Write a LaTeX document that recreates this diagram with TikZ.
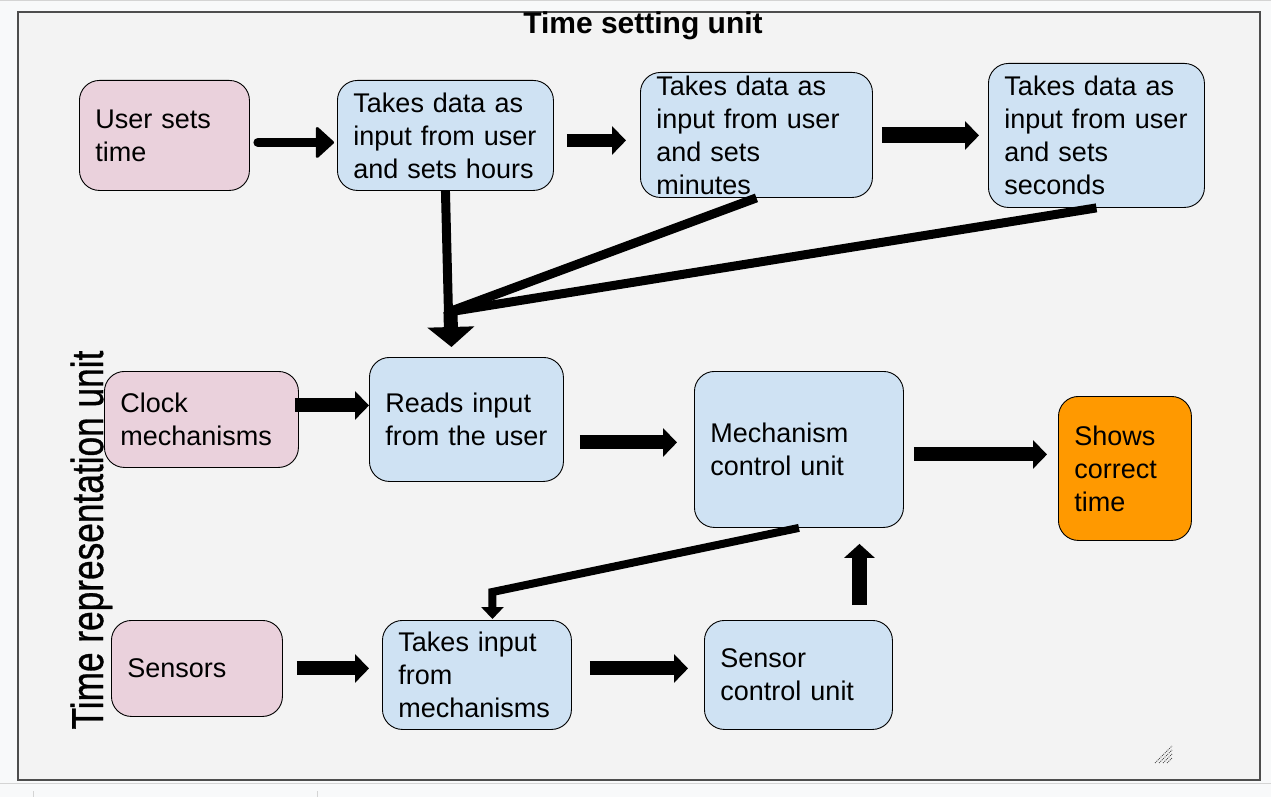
\documentclass[tikz,border=0pt]{standalone}
\usepackage{fontspec}
\setmainfont{Liberation Sans}
\newfontfamily\vfont[FakeBold=0.8]{Liberation Sans}
\usetikzlibrary{arrows.meta,calc}
\definecolor{pinkbox}{HTML}{EAD1DC}
\definecolor{bluebox}{HTML}{CFE2F3}
\definecolor{orangebox}{HTML}{FF9900}
\definecolor{panel}{HTML}{F3F3F3}
\definecolor{outerbg}{HTML}{F8F9FA}
\definecolor{framec}{HTML}{4D4D4D}
\definecolor{uigray}{HTML}{D4D4D4}
\tikzset{
  boxbase/.style={draw=black, line width=0.9pt, rounded corners=20pt, anchor=north west,
    inner xsep=16pt, inner ysep=0pt, align=left, text=black,
    font=\fontsize{27}{33}\selectfont},
  pinkb/.style={boxbase, fill=pinkbox},
  blueb/.style={boxbase, fill=bluebox},
  orangeb/.style={boxbase, fill=orangebox},
  sz/.style 2 args={minimum width=#1pt, minimum height=#2pt, text width=#1pt-32pt},
  blockarrow/.style={draw=black, line width=14pt, -{Triangle[length=14pt,width=28pt]}},
  thinlink/.style={draw=black, line width=9pt},
}
\begin{document}
\begin{tikzpicture}[x=1pt,y=-1pt]
\useasboundingbox (0,0) rectangle (1271,797);
\fill[outerbg] (0,0) rectangle (1271,797);
\draw[uigray, line width=1pt] (0,0.5) -- (1271,0.5);
\draw[framec, fill=panel, line width=1.5pt] (18,12) rectangle (1260,780);
\draw[uigray, line width=1pt] (0,783.5) -- (1271,783.5);
\draw[uigray, line width=1pt] (33,791) -- (33,797);
\draw[uigray, line width=1pt] (317,791) -- (317,797);
% resize grip
\foreach \d in {0,4,8,12}
  \draw[framec, line width=0.8pt, dash pattern=on 1pt off 1pt] (1155+\d,763) -- (1172,746+\d);

% titles
\node[font=\bfseries\fontsize{30}{36}\selectfont] (title) at (643,26) {Time setting unit};
\node[rotate=90, anchor=base] (vtitle) at (103,540)
  {\scalebox{0.82}[1.04]{\vfont\fontsize{43}{50}\selectfont Time representation unit}};

% boxes
\node[pinkb, sz={170}{110}] (ust) at (79,80) {User sets\\time};
\node[blueb, sz={216}{110}] (hrs) at (337,80) {Takes data as\\\mbox{input from user}\\\mbox{and sets hours}};
\node[blueb, sz={232}{125}] (mins) at (640,72) {Takes data as\\\mbox{input from user}\\and sets\\minutes};
\node[blueb, sz={216}{144}] (secs) at (988,63) {Takes data as\\\mbox{input from user}\\and sets\\seconds};
\node[pinkb, sz={194}{96}] (clk) at (104,371) {Clock\\mechanisms};
\node[blueb, sz={194}{124}] (rd) at (369,357) {Reads input\\\mbox{from the user}};
\node[blueb, sz={209}{156}] (mcu) at (694,371) {Mechanism\\control unit};
\node[orangeb, sz={133}{144}] (sct) at (1058,396) {Shows\\correct\\time};
\node[pinkb, sz={171}{96}] (sen) at (111,620) {Sensors};
\node[blueb, sz={189}{109}] (tim) at (382,620) {Takes input\\from\\mechanisms};
\node[blueb, sz={188}{109}] (scu) at (704,620) {Sensor\\control unit};

% connectors
\draw[line width=9pt, line cap=round, -{Triangle[round,line width=3pt,length=19pt,width=34pt]}]
  ($(ust.east)+(8,7)$) -- ($(hrs.west)+(-3,7)$);
\draw[blockarrow, line width=13pt] ($(hrs.east)+(13,5)$) -- ($(mins.west)+(-14,5.5)$);
\draw[blockarrow, line width=16pt] ($(mins.east)+(9,0.5)$) -- ($(secs.west)+(-9,0)$);

\coordinate (P) at ($(rd.north)+(-18,-45)$);
\draw[thinlink] (hrs.south) -- (P);
\draw[thinlink] (mins.south) -- (P);
\draw[thinlink] (secs.south) -- (P);
\draw[draw=black, line width=14pt, -{Triangle[length=20pt,width=46pt]}] ($(P)+(2,0)$) -- ($(rd.north)+(-15,-10)$);

\draw[blockarrow] ($(clk.east)+(-4,-14)$) -- ($(rd.west)+(0,-14)$);
\draw[blockarrow] ($(rd.east)+(16,23)$) -- ($(mcu.west)+(-17,-7)$);
\draw[blockarrow] ($(mcu.east)+(10,5)$) -- ($(sct.west)+(-11,-14)$);
\draw[blockarrow] ($(sen.east)+(14,0)$) -- ($(tim.west)+(-13,-6.5)$);
\draw[blockarrow] ($(tim.east)+(18,-6.5)$) -- ($(scu.west)+(-16,-6.5)$);
\draw[blockarrow, line width=15pt, -{Triangle[length=14pt,width=30pt]}]
  ($(scu.north)+(61,-15)$) -- ($(mcu.south)+(60.5,16)$);

\coordinate (Q) at ($(tim.north)+(15.5,-28)$);
\draw[draw=black, line width=8pt, -{Triangle[length=12pt,width=22pt]}]
  (mcu.south) -- (Q) -- ($(tim.north)+(15.5,-1)$);
\end{tikzpicture}
\end{document}
